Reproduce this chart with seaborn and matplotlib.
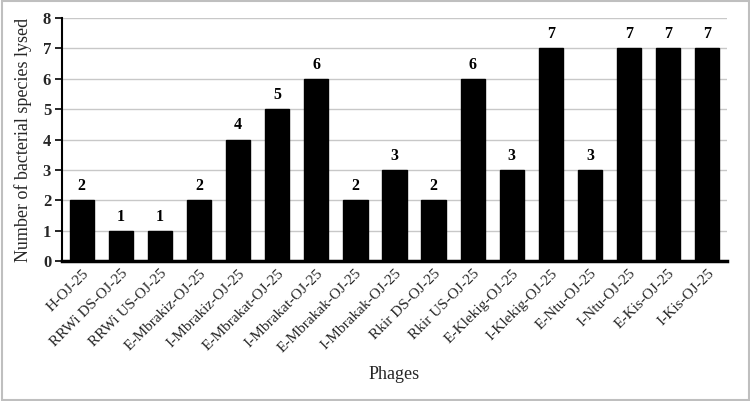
import matplotlib
matplotlib.use("Agg")
import matplotlib.pyplot as plt
import seaborn as sns
import pandas as pd
from matplotlib.patches import Rectangle

phages = ["H-OJ-25", "RRWi DS-OJ-25", "RRWi US-OJ-25", "E-Mbrakiz-OJ-25", "I-Mbrakiz-OJ-25",
          "E-Mbrakat-OJ-25", "I-Mbrakat-OJ-25", "E-Mbrakak-OJ-25", "I-Mbrakak-OJ-25",
          "Rkir DS-OJ-25", "Rkir US-OJ-25", "E-Klekig-OJ-25", "I-Klekig-OJ-25",
          "E-Ntu-OJ-25", "I-Ntu-OJ-25", "E-Kis-OJ-25", "I-Kis-OJ-25"]
lysed = [2, 1, 1, 2, 4, 5, 6, 2, 3, 2, 6, 3, 7, 3, 7, 7, 7]

df = pd.DataFrame({"Phage": phages, "Lysed": lysed})

sns.set_theme(style="white")
plt.rcParams['font.family'] = ['Liberation Serif', 'DejaVu Serif']

fig = plt.figure(figsize=(7.5, 4.01), dpi=100)
ax = fig.add_axes([0.083, 0.349, 0.886, 0.606])

sns.barplot(data=df, x="Phage", y="Lysed", color="black", width=0.62,
            edgecolor="black", saturation=1, ax=ax, zorder=3)

for i, v in enumerate(lysed):
    ax.text(i, v + 0.2, str(v), ha="center", va="bottom", fontsize=11.5,
            fontweight="bold", color="black")

ax.set_ylim(0, 8)
ax.set_xlim(-0.5, len(phages) - 0.5)
ax.set_yticks(range(0, 9))
ax.set_yticklabels([str(i) for i in range(0, 9)], fontsize=12, fontweight="bold")
ax.set_xticks(range(len(phages)))
ax.set_xticklabels(phages, rotation=45, ha="right", rotation_mode="anchor", fontsize=11)
ax.yaxis.grid(True, color="#c8c8c8", linewidth=1, zorder=0)
ax.set_axisbelow(True)

for s in ["top", "right"]:
    ax.spines[s].set_visible(False)
ax.spines["left"].set_color("black")
ax.spines["left"].set_linewidth(1.5)
ax.spines["bottom"].set_color("black")
ax.spines["bottom"].set_linewidth(2.5)
ax.tick_params(axis="y", length=5, width=1.2, direction="out", color="black", left=True, pad=3)
ax.tick_params(axis="x", length=0, pad=4)

ax.set_xlabel("Phages", fontsize=13, labelpad=8)
ax.set_ylabel("Number of bacterial species lysed", fontsize=13, labelpad=8)

fig.patches.append(Rectangle((0.002, 0.002), 0.996, 0.995, transform=fig.transFigure,
                             fill=False, edgecolor="#bfbfbf", linewidth=1.5))

fig.savefig("out.png", dpi=100)
